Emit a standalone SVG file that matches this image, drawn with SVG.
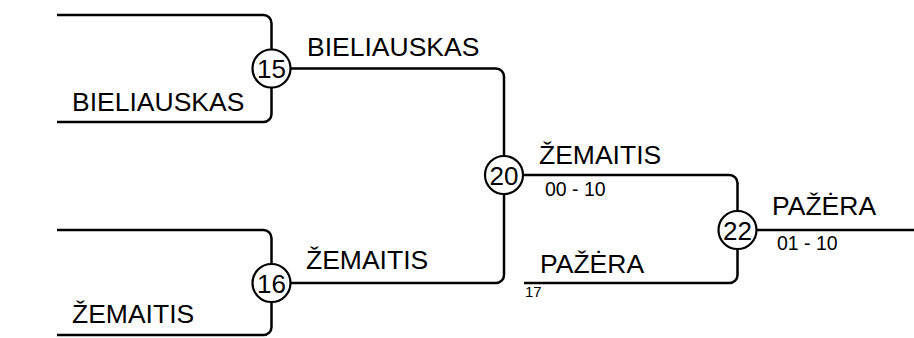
<svg xmlns="http://www.w3.org/2000/svg" width="914" height="338" viewBox="0 0 914 338">
<style>
.ln{fill:none;stroke:#000;stroke-width:2.5}
.nd circle{fill:#fff;stroke:#000;stroke-width:2.2}
.num{font-family:"Liberation Sans",Arial,sans-serif;font-size:26px;fill:#000;text-anchor:middle}
.nm{font-family:"Liberation Sans",Arial,sans-serif;font-size:26.5px;fill:#000}
.sc{font-family:"Liberation Sans",Arial,sans-serif;font-size:19.5px;fill:#000}
.sm{font-family:"Liberation Sans",Arial,sans-serif;font-size:15px;fill:#000}
</style>
<rect width="914" height="338" fill="#fff"/>
<g id="connectors">
<path class="ln" d="M57,15 H263.5 A8,8 0 0 1 271.5,23 V114 A8,8 0 0 1 263.5,122 H57"/>
<path class="ln" d="M57,230 H263.5 A8,8 0 0 1 271.5,238 V327 A8,8 0 0 1 263.5,335 H57"/>
<path class="ln" d="M271.5,68.5 H496 A8,8 0 0 1 504,76.5 V275 A8,8 0 0 1 496,283 H271.5"/>
<path class="ln" d="M504,175 H729.5 A8,8 0 0 1 737.5,183 V275 A8,8 0 0 1 729.5,283 H524"/>
<path class="ln" d="M737.5,230 H914"/>
</g>
<g id="labels">
<text class="nm" x="72" y="111">BIELIAUSKAS</text>
<text class="nm" x="72" y="323">ŽEMAITIS</text>
<text class="nm" x="307" y="56">BIELIAUSKAS</text>
<text class="nm" x="306" y="269">ŽEMAITIS</text>
<text class="nm" x="539" y="164">ŽEMAITIS</text>
<text class="sc" x="545" y="196">00 - 10</text>
<text class="nm" x="540" y="273">PAŽĖRA</text>
<text class="sm" x="525" y="297">17</text>
<text class="nm" x="772" y="215">PAŽĖRA</text>
<text class="sc" x="777" y="250">01 - 10</text>
</g>
<g id="node-15" class="nd"><circle cx="271.5" cy="68.5" r="19"/><text class="num" x="271.5" y="78">15</text></g>
<g id="node-16" class="nd"><circle cx="271.5" cy="283" r="19"/><text class="num" x="271.5" y="292.5">16</text></g>
<g id="node-20" class="nd"><circle cx="504" cy="175" r="19"/><text class="num" x="504" y="184.5">20</text></g>
<g id="node-22" class="nd"><circle cx="737.5" cy="230" r="19"/><text class="num" x="737.5" y="239.5">22</text></g>
</svg>
